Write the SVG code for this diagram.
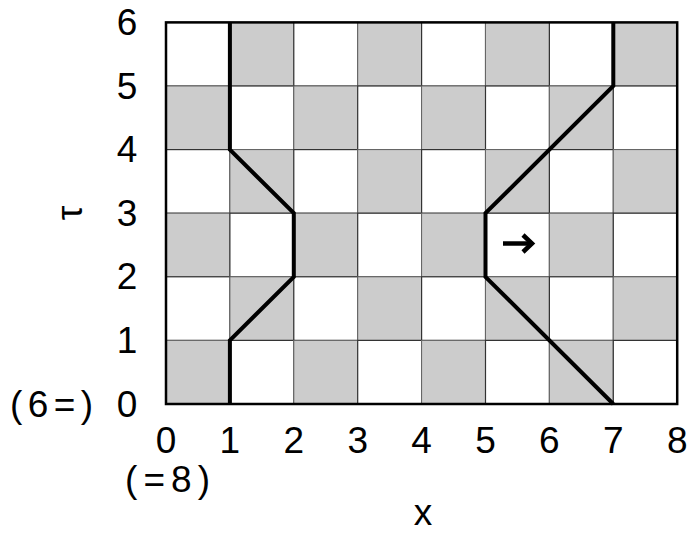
<svg xmlns="http://www.w3.org/2000/svg" width="689" height="533" viewBox="0 0 689 533">
<style>
.g{fill:#cccccc;stroke:#666;stroke-width:1}
.w{fill:#fff;stroke:#333;stroke-width:1.2}
.t{font-family:"Liberation Sans",Arial,sans-serif;font-size:37px;fill:#000}
.m{text-anchor:middle}
.p{fill:none;stroke:#000;stroke-width:4;stroke-linejoin:miter}
</style>
<rect width="689" height="533" fill="#fff"/>
<g id="board">
<rect class="w" x="166" y="22.4" width="63.9" height="63.6"/>
<rect class="g" x="229.9" y="22.4" width="63.9" height="63.6"/>
<rect class="w" x="293.8" y="22.4" width="63.9" height="63.6"/>
<rect class="g" x="357.7" y="22.4" width="63.9" height="63.6"/>
<rect class="w" x="421.6" y="22.4" width="63.9" height="63.6"/>
<rect class="g" x="485.5" y="22.4" width="63.9" height="63.6"/>
<rect class="w" x="549.4" y="22.4" width="63.9" height="63.6"/>
<rect class="g" x="613.3" y="22.4" width="63.9" height="63.6"/>
<rect class="g" x="166" y="86" width="63.9" height="63.6"/>
<rect class="w" x="229.9" y="86" width="63.9" height="63.6"/>
<rect class="g" x="293.8" y="86" width="63.9" height="63.6"/>
<rect class="w" x="357.7" y="86" width="63.9" height="63.6"/>
<rect class="g" x="421.6" y="86" width="63.9" height="63.6"/>
<rect class="w" x="485.5" y="86" width="63.9" height="63.6"/>
<rect class="g" x="549.4" y="86" width="63.9" height="63.6"/>
<rect class="w" x="613.3" y="86" width="63.9" height="63.6"/>
<rect class="w" x="166" y="149.6" width="63.9" height="63.6"/>
<rect class="g" x="229.9" y="149.6" width="63.9" height="63.6"/>
<rect class="w" x="293.8" y="149.6" width="63.9" height="63.6"/>
<rect class="g" x="357.7" y="149.6" width="63.9" height="63.6"/>
<rect class="w" x="421.6" y="149.6" width="63.9" height="63.6"/>
<rect class="g" x="485.5" y="149.6" width="63.9" height="63.6"/>
<rect class="w" x="549.4" y="149.6" width="63.9" height="63.6"/>
<rect class="g" x="613.3" y="149.6" width="63.9" height="63.6"/>
<rect class="g" x="166" y="213.2" width="63.9" height="63.6"/>
<rect class="w" x="229.9" y="213.2" width="63.9" height="63.6"/>
<rect class="g" x="293.8" y="213.2" width="63.9" height="63.6"/>
<rect class="w" x="357.7" y="213.2" width="63.9" height="63.6"/>
<rect class="g" x="421.6" y="213.2" width="63.9" height="63.6"/>
<rect class="w" x="485.5" y="213.2" width="63.9" height="63.6"/>
<rect class="g" x="549.4" y="213.2" width="63.9" height="63.6"/>
<rect class="w" x="613.3" y="213.2" width="63.9" height="63.6"/>
<rect class="w" x="166" y="276.8" width="63.9" height="63.6"/>
<rect class="g" x="229.9" y="276.8" width="63.9" height="63.6"/>
<rect class="w" x="293.8" y="276.8" width="63.9" height="63.6"/>
<rect class="g" x="357.7" y="276.8" width="63.9" height="63.6"/>
<rect class="w" x="421.6" y="276.8" width="63.9" height="63.6"/>
<rect class="g" x="485.5" y="276.8" width="63.9" height="63.6"/>
<rect class="w" x="549.4" y="276.8" width="63.9" height="63.6"/>
<rect class="g" x="613.3" y="276.8" width="63.9" height="63.6"/>
<rect class="g" x="166" y="340.4" width="63.9" height="63.6"/>
<rect class="w" x="229.9" y="340.4" width="63.9" height="63.6"/>
<rect class="g" x="293.8" y="340.4" width="63.9" height="63.6"/>
<rect class="w" x="357.7" y="340.4" width="63.9" height="63.6"/>
<rect class="g" x="421.6" y="340.4" width="63.9" height="63.6"/>
<rect class="w" x="485.5" y="340.4" width="63.9" height="63.6"/>
<rect class="g" x="549.4" y="340.4" width="63.9" height="63.6"/>
<rect class="w" x="613.3" y="340.4" width="63.9" height="63.6"/>
<rect x="166" y="22.4" width="511.2" height="381.6" fill="none" stroke="#000" stroke-width="2.5"/>
</g>
<g id="paths">
<path class="p" d="M229.9,22.4 V149.6 L293.8,213.2 V276.8 L229.9,340.4 V404"/>
<path class="p" d="M613.3,22.4 V86 L485.5,213.2 V276.8 L613.3,404"/>
</g>
<g id="arrow" fill="none" stroke="#000" stroke-width="4.5">
<path d="M503,243.5 H531"/>
<path d="M523,235 L532,243.5 L523,252"/>
</g>
<g id="ylabels" class="t m">
<text x="127" y="35">6</text>
<text x="127" y="98.5">5</text>
<text x="127" y="162">4</text>
<text x="127" y="225.7">3</text>
<text x="127" y="289.3">2</text>
<text x="127" y="353">1</text>
<text x="127" y="416.5">0</text>
</g>
<g id="xlabels" class="t m">
<text x="166" y="453">0</text>
<text x="229.9" y="453">1</text>
<text x="293.8" y="453">2</text>
<text x="357.7" y="453">3</text>
<text x="421.6" y="453">4</text>
<text x="485.5" y="453">5</text>
<text x="549.4" y="453">6</text>
<text x="613.3" y="453">7</text>
<text x="677.2" y="453">8</text>
</g>
<g id="extra" class="t">
<text x="10" y="416.5" textLength="83" lengthAdjust="spacing">(6=)</text>
<text x="125" y="492" textLength="85" lengthAdjust="spacing">(=8)</text>
<text x="423" y="525" class="m">x</text>
<text x="0" y="0" class="m" transform="translate(82,213) rotate(-90)">τ</text>
</g>
</svg>
